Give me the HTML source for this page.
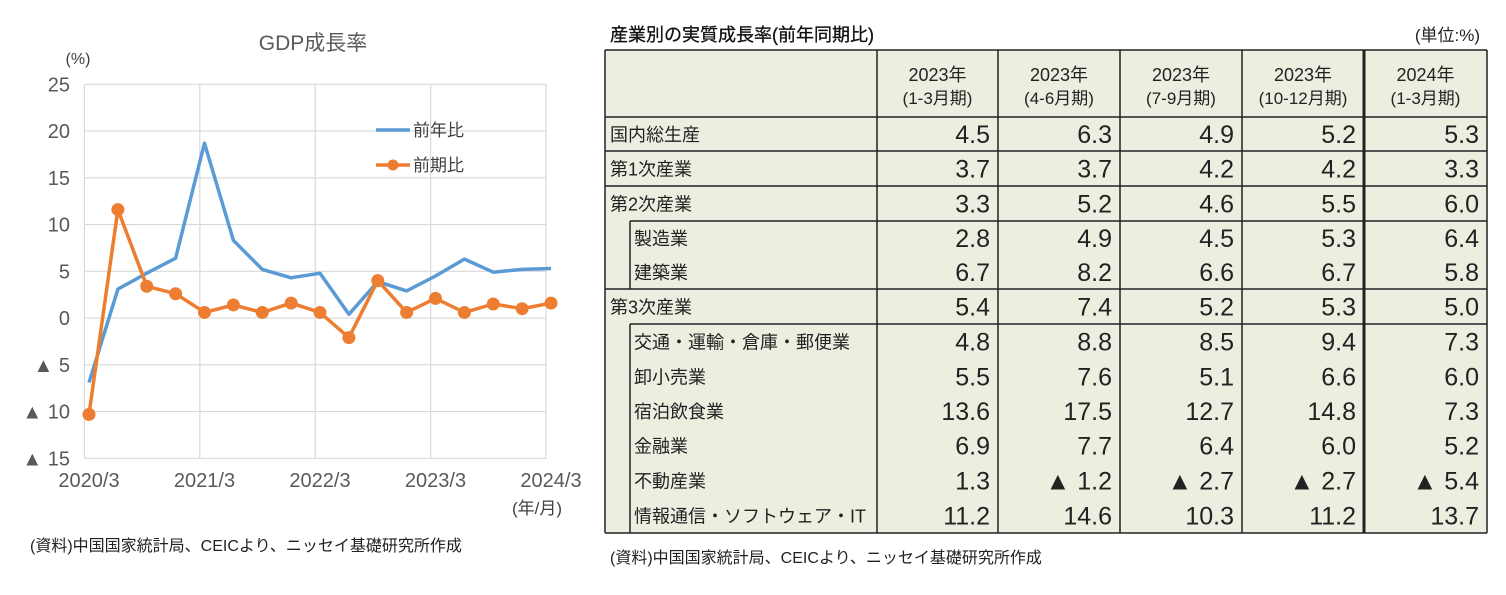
<!DOCTYPE html>
<html><head><meta charset="utf-8"><style>
html,body{margin:0;padding:0;background:#fff;}
svg{display:block;font-family:"Liberation Sans","Noto Sans CJK JP",sans-serif;}
</style></head><body>
<svg id="root" width="1506" height="595" viewBox="0 0 1506 595">
<g id="chart">
<text x="313" y="50" font-size="21" fill="#595959" text-anchor="middle">GDP成長率</text>
<text x="78" y="64" font-size="16" fill="#404040" text-anchor="middle">(%)</text>
<g id="grid"></g><g id="lines"></g>
<g>
<line x1="376" y1="130" x2="410" y2="130" stroke="#5b9bd5" stroke-width="3.5"/>
<text x="413" y="136" font-size="17" fill="#404040">前年比</text>
<line x1="376" y1="165" x2="410" y2="165" stroke="#ed7d31" stroke-width="3.5"/>
<circle cx="393" cy="165" r="5.5" fill="#ed7d31"/>
<text x="413" y="171" font-size="17" fill="#404040">前期比</text>
</g>
<text x="537" y="514" font-size="17" fill="#404040" text-anchor="middle">(年/月)</text>
<text x="30" y="551" font-size="16" fill="#222">(資料)中国国家統計局、CEICより、ニッセイ基礎研究所作成</text>
</g>
<g id="table">
<text x="610" y="41" font-size="18" fill="#111" stroke="#111" stroke-width="0.3">産業別の実質成長率(前年同期比)</text>
<text x="1480" y="41" font-size="17" fill="#222" text-anchor="end">(単位:%)</text>
<rect x="605" y="50" width="882" height="483" fill="#eceee0"/>
<g id="tbody"></g>
</g>
<text x="610" y="563" font-size="16" fill="#222">(資料)中国国家統計局、CEICより、ニッセイ基礎研究所作成</text>
</svg>
<script>
const NS="http://www.w3.org/2000/svg";
const quarters=["2020/3","2020/6","2020/9","2020/12","2021/3","2021/6","2021/9","2021/12","2022/3","2022/6","2022/9","2022/12","2023/3","2023/6","2023/9","2023/12","2024/3"];
const yoyValues=[-6.9,3.1,4.8,6.4,18.7,8.3,5.2,4.3,4.8,0.4,3.9,2.9,4.5,6.3,4.9,5.2,5.3];
const qoqValues=[-10.3,11.6,3.4,2.6,0.6,1.4,0.6,1.6,0.6,-2.1,4.0,0.6,2.1,0.6,1.5,1.0,1.6];
const yTicks=[25,20,15,10,5,0,-5,-10,-15];
const xTickLabels=["2020/3","2021/3","2022/3","2023/3","2024/3"];

const colHeads=[["2023年","(1-3月期)"],["2023年","(4-6月期)"],["2023年","(7-9月期)"],["2023年","(10-12月期)"],["2024年","(1-3月期)"]];
const rowLabels=["国内総生産","第1次産業","第2次産業","製造業","建築業","第3次産業","交通・運輸・倉庫・郵便業","卸小売業","宿泊飲食業","金融業","不動産業","情報通信・ソフトウェア・IT"];
const rowIndent=[0,0,0,1,1,0,1,1,1,1,1,1];
const tableValues=[
[4.5,6.3,4.9,5.2,5.3],[3.7,3.7,4.2,4.2,3.3],[3.3,5.2,4.6,5.5,6.0],[2.8,4.9,4.5,5.3,6.4],[6.7,8.2,6.6,6.7,5.8],[5.4,7.4,5.2,5.3,5.0],
[4.8,8.8,8.5,9.4,7.3],[5.5,7.6,5.1,6.6,6.0],[13.6,17.5,12.7,14.8,7.3],[6.9,7.7,6.4,6.0,5.2],[1.3,-1.2,-2.7,-2.7,-5.4],[11.2,14.6,10.3,11.2,13.7]];

function mk(tag,attrs,parent,text){const e=document.createElementNS(NS,tag);for(const k in attrs)e.setAttribute(k,attrs[k]);if(text!==undefined)e.textContent=text;parent.appendChild(e);return e;}
const x0=84.4,xR=546,yTop=84.3,yBot=458.3;
const yScale=v=>yTop+(25-v)*(yBot-yTop)/40;
const xScale=i=>89+i*(551-89)/(quarters.length-1);
const grid=document.getElementById('grid');
yTicks.forEach(t=>{
  const l=mk('line',{x1:x0,x2:xR,y1:yScale(t),y2:yScale(t),stroke:'#d9d9d9','stroke-width':1.2},grid);
  
  
  const lab=t<0?'▲ '+(-t):String(t);
  const tx=mk('text',{x:70,y:yScale(t)+7,'font-size':20,fill:'#595959','text-anchor':'end'},grid,lab);
  
  
});
xTickLabels.forEach((lab,k)=>{
  const gx=x0+k*(xR-x0)/4;
  const l=mk('line',{x1:gx,x2:gx,y1:yTop,y2:yBot,stroke:'#d9d9d9','stroke-width':1.2},grid);
  
  
  const i=quarters.indexOf(lab);
  const tx=mk('text',{x:xScale(i),y:487,'font-size':20,fill:'#595959','text-anchor':'middle'},grid,lab);
  
  
});
const lines=document.getElementById('lines');
const pts=a=>a.map((v,i)=>xScale(i).toFixed(1)+','+yScale(v).toFixed(1)).join(' ');
const py=mk('polyline',{points:pts(yoyValues),fill:'none',stroke:'#5b9bd5','stroke-width':3.5,'stroke-linejoin':'round'},lines);


const pq=mk('polyline',{points:pts(qoqValues),fill:'none',stroke:'#ed7d31','stroke-width':3.5,'stroke-linejoin':'round'},lines);


qoqValues.forEach((v,i)=>{
  const c=mk('circle',{cx:xScale(i),cy:yScale(v),r:6.5,fill:'#ed7d31'},lines);
  
  
});

const tb=document.getElementById('tbody');
const colX=[605,877,998,1120,1242,1364,1487];
const rowY=[117,151,186,221,255,289,324,359,394,428,463,498,533];
const sep=[true,true,true,false,true,true,false,false,false,false,false,false];
colHeads.forEach((h,j)=>{
  const cx=(colX[j+1]+colX[j+2])/2;
  const a=mk('text',{x:cx,y:81,'font-size':18,fill:'#222','text-anchor':'middle'},tb,h[0]);
  
  
  const b=mk('text',{x:cx,y:104,'font-size':17,fill:'#222','text-anchor':'middle'},tb,h[1]);
  
  
});
rowLabels.forEach((lab,r)=>{
  const yc=(rowY[r]+rowY[r+1])/2;
  const t=mk('text',{x:rowIndent[r]?634:610,y:yc+7,'font-size':18,fill:'#222'},tb,lab);
  
  
  tableValues[r].forEach((v,j)=>{
    const s=v<0?'▲ '+(-v).toFixed(1):v.toFixed(1);
    const tv=mk('text',{x:colX[j+2]-8,y:yc+9,'font-size':25,fill:'#222','text-anchor':'end'},tb,s);
    
    
  });
  if(r<rowLabels.length-1 && sep[r]){
    const nx=rowIndent[r+1]?630:605;
    const l=mk('line',{x1:nx,x2:1487,y1:rowY[r+1],y2:rowY[r+1],stroke:'#222','stroke-width':1.5},tb);
    
    
  }
});
[[605,50,1487,50],[605,117,1487,117],[605,533,1487,533],[605,50,605,533],[1487,50,1487,533],[630,221,630,289],[630,324,630,533]].forEach(c=>{
  const l=mk('line',{x1:c[0],y1:c[1],x2:c[2],y2:c[3],stroke:'#222','stroke-width':1.5},tb);
  
  
});
colX.slice(1,6).forEach((x,k)=>{
  const l=mk('line',{x1:x,y1:50,x2:x,y2:533,stroke:'#222','stroke-width':k===4?3:1.5},tb);
  
  
});
</script>
</body></html>
